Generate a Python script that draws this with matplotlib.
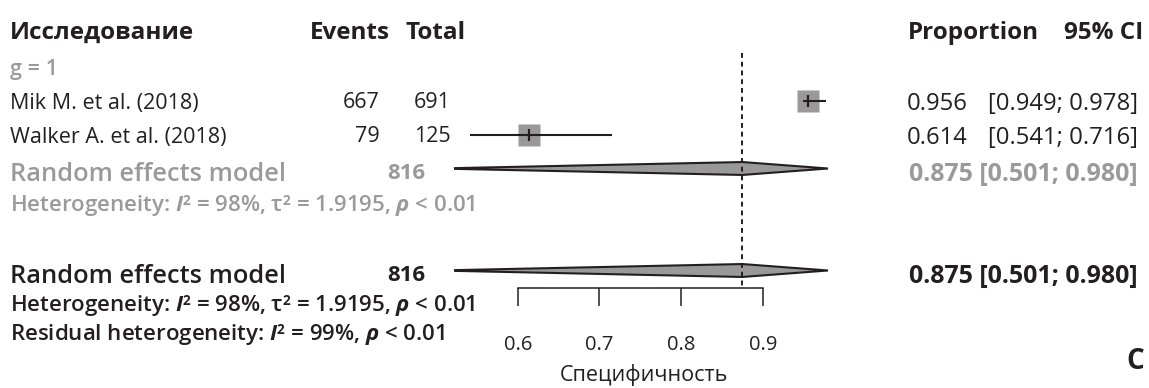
import matplotlib.pyplot as plt
from matplotlib.patches import Polygon
from matplotlib.transforms import blended_transform_factory

FONT = 'Open Sans'
plt.rcParams['font.family'] = [FONT, 'DejaVu Sans']
plt.rcParams['mathtext.fontset'] = 'custom'
plt.rcParams['mathtext.rm'] = FONT
plt.rcParams['mathtext.it'] = FONT + ':italic'
plt.rcParams['mathtext.bf'] = FONT + ':bold'
plt.rcParams['mathtext.bfit'] = FONT + ':italic:bold'

# Study-level data
studies = ['Mik M. et al. (2018)', 'Walker A. et al. (2018)']
events = [667, 79]
totals = [691, 125]
prop = [0.956, 0.614]
ci_lo = [0.949, 0.541]
ci_hi = [0.978, 0.716]

# Pooled random effects estimate
re_total = 816
re_prop = 0.875
re_lo = 0.501
re_hi = 0.980

subgroup = 'g = 1'
het_text = r'Heterogeneity: $\mathbfit{I}$² = 98%, τ² = 1.9195, $\mathbfit{\rho}$ < 0.01'
resid_text = r'Residual heterogeneity: $\mathbfit{I}$² = 99%, $\mathbfit{\rho}$ < 0.01'
ticks = [0.6, 0.7, 0.8, 0.9]
xlabel = 'Специфичность'

BLACK = '#231f20'
GREY = '#9a9a9a'
W, H = 1149, 388

fig = plt.figure(figsize=(W / 100, H / 100), dpi=100)

# forest panel: 0.6 -> px 517.7, 0.9 -> px 762.7
x_left, x_right = 454, 845
scale = (762.7 - 517.7) / 0.3
xmin = 0.6 - (517.7 - x_left) / scale
xmax = 0.6 + (x_right - 517.7) / scale
ax = fig.add_axes([x_left / W, 0, (x_right - x_left) / W, 1])
ax.set_xlim(xmin, xmax)
ax.set_ylim((H - 32.5) / 34, -32.5 / 34)   # one row = 34 px
ax.axis('off')

rows = [2, 3]
re_row_sub, re_row_all = 4, 7

# reference line at pooled estimate
ax.vlines(re_prop, 0.6, 7.5, colors=BLACK, linewidth=1.4,
          linestyles=(0, (2.5, 2)), zorder=5)

# study squares and CIs
ax.plot(prop, rows, 's', ms=16.5, color='#999999', mec='none', zorder=3)
ax.hlines(rows, ci_lo, ci_hi, colors=BLACK, linewidth=1.5, zorder=4)
ax.plot(prop, rows, '|', ms=9, mew=1.6, color=BLACK, zorder=4)

# pooled diamonds
h = 0.19
for r in (re_row_sub, re_row_all):
    ax.add_patch(Polygon([(re_lo, r), (re_prop, r - h), (re_hi, r), (re_prop, r + h)],
                         closed=True, facecolor='#999999', edgecolor=BLACK,
                         linewidth=1.5, zorder=2))

# x axis
ax2 = fig.add_axes([x_left / W, (H - 288) / H, (x_right - x_left) / W, 0.001])
ax2.set_xlim(xmin, xmax)
ax2.set_xticks(ticks)
ax2.set_xticklabels([f'{t:.1f}' for t in ticks])
ax2.set_yticks([])
for s in ('top', 'left', 'right'):
    ax2.spines[s].set_visible(False)
ax2.spines['bottom'].set_bounds(ticks[0], ticks[-1])
ax2.spines['bottom'].set_linewidth(1.1)
ax2.spines['bottom'].set_color(BLACK)
ax2.patch.set_visible(False)
ax2.tick_params(axis='x', direction='out', length=13, width=1.1, pad=21,
                labelsize=14.5, colors=BLACK)
ax.text((ticks[0] + ticks[-1]) / 2 + 0.004, (373 - 32.5) / 34, xlabel, ha='center',
        va='center_baseline', fontsize=15.5, color=BLACK)

# text columns
tr = blended_transform_factory(fig.transFigure, ax.transData)


def put(x, y, s, ha='left', **kw):
    kw.setdefault('color', BLACK)
    kw.setdefault('fontsize', 15.5)
    ax.text(x / W, y, s, ha=ha, va='center_baseline', transform=tr, clip_on=False, **kw)


put(10, -0.07, 'Исследование', fontweight='bold', fontsize=17.5)
put(390, -0.07, 'Events', ha='right', fontweight='bold', fontsize=17.5)
put(466, -0.07, 'Total', ha='right', fontweight='bold', fontsize=17.5)
put(1039, -0.07, 'Proportion', ha='right', fontweight='bold', fontsize=17.5)
put(1143, -0.07, '95% CI', ha='right', fontweight='bold', fontsize=17.5)

put(10, 1.0, subgroup, color=GREY, fontweight='semibold')

for r, name, e, n, p, lo, hi in zip(rows, studies, events, totals, prop, ci_lo, ci_hi):
    put(10, r, name)
    put(380, r, str(e), ha='right')
    put(451, r, str(n), ha='right')
    put(968, r, f'{p:.3f}', ha='right', fontsize=17.2)
    put(1138, r, f'[{lo:.3f}; {hi:.3f}]', ha='right', fontsize=17.2)

re_ci = f'{re_prop:.3f} [{re_lo:.3f}; {re_hi:.3f}]'
for r, col, het_row in ((re_row_sub, GREY, 5.0), (re_row_all, BLACK, 7.94)):
    put(10, r + 0.08, 'Random effects model', color=col, fontweight='semibold', fontsize=18.3)
    put(425, r + 0.08, str(re_total), ha='right', color=col, fontweight='bold', fontsize=16)
    put(1138, r + 0.08, re_ci, ha='right', color=col, fontweight='bold', fontsize=18)
    put(10, het_row, het_text, color=col, fontweight='semibold', fontsize=16)

put(10, 8.79, resid_text, fontweight='semibold', fontsize=16)
put(1144, (358 - 32.5) / 34, 'C', ha='right', fontweight='bold', fontsize=20)

fig.savefig('out.png', dpi=100)
